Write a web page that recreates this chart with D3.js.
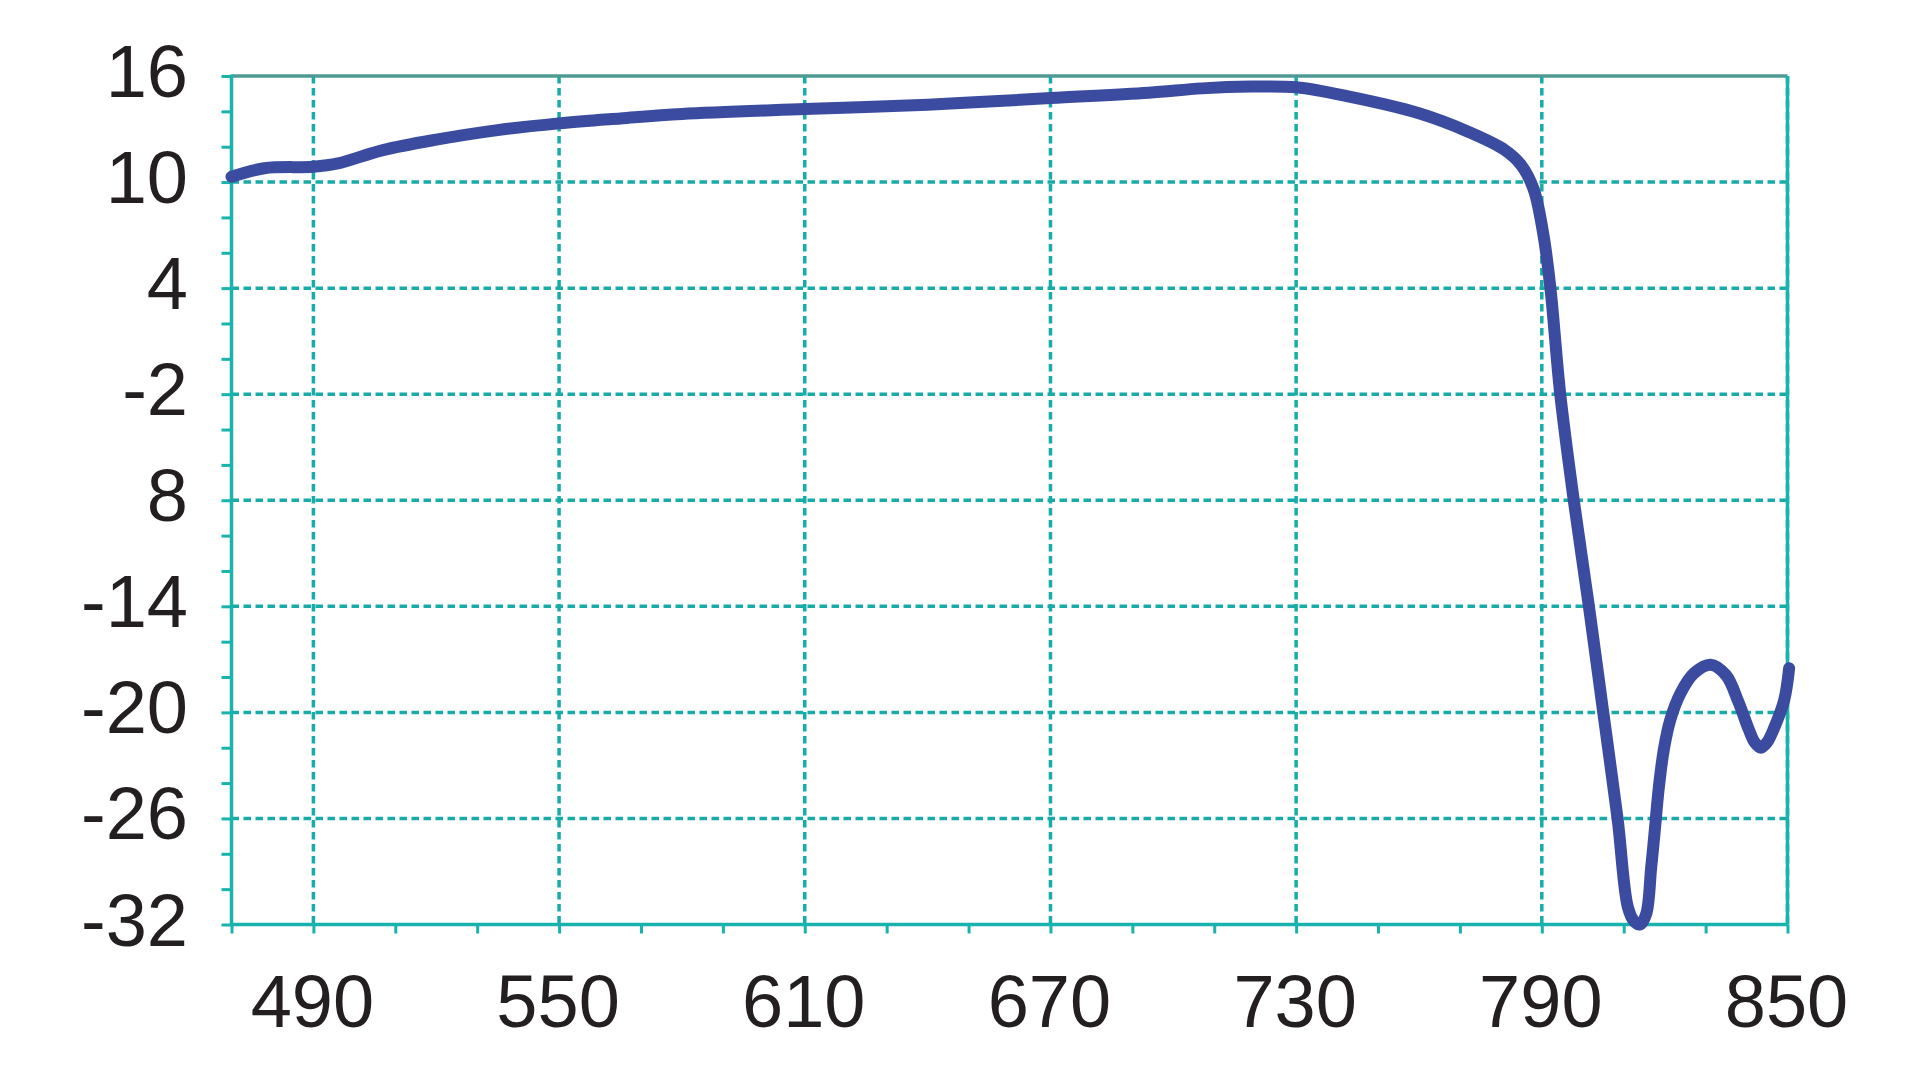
<!DOCTYPE html>
<html>
<head>
<meta charset="utf-8">
<style>
body { margin: 0; background: #fff; }
text {
  font-family: "Liberation Sans", Arial, sans-serif;
  fill: #231f20;
}
.grid line {
  stroke: #17aca7;
  stroke-width: 3.5px;
  stroke-dasharray: 7.5,4.5;
}
.frame {
  fill: none;
  stroke-width: 3.5px;
}
</style>
</head>
<body>
<script src="https://cdn.jsdelivr.net/npm/d3@7/dist/d3.min.js"></script>
<script>

// wavelength (nm) and value
var wavelength = [470, 478, 490, 496, 507, 520, 535, 550, 565, 580, 610, 640, 670, 694, 707, 719, 730, 743, 760, 772, 781, 785, 788, 790.4, 792.1, 794.5, 797.8, 801.5, 805, 808.5, 811, 812.5, 814, 815.5, 816.7, 817.5, 818.6, 819.8, 821.4, 823.9, 827.1, 831.2, 835, 838, 840.6, 842, 843.5, 845, 846.7, 849.2, 850.4];
var signal = [10.30, 10.78, 10.87, 11.06, 11.81, 12.40, 12.94, 13.32, 13.6, 13.85, 14.13, 14.38, 14.75, 15.05, 15.30, 15.40, 15.36, 14.83, 13.89, 12.85, 11.81, 10.95, 9.6, 7.0, 4.0, -2.0, -8.0, -14.0, -20.0, -26.0, -31.0, -31.8, -32.0, -31.4, -28.8, -26.9, -24.2, -22.1, -20.4, -18.9, -17.8, -17.3, -17.9, -19.4, -21.0, -21.7, -22.0, -21.7, -20.9, -19.3, -17.5];

var xTicks = [490, 550, 610, 670, 730, 790, 850];
var xLabels = ["490", "550", "610", "670", "730", "790", "850"];
var yTicks = [16, 10, 4, -2, -8, -14, -20, -26, -32];
var yLabels = ["16", "10", "4", "-2", "8", "-14", "-20", "-26", "-32"];

var width = 1920,
    height = 1080;

var pLeft = 231.5, pRight = 1787.5, pTop = 76, pBottom = 924.5;

var x = d3.scaleLinear().domain([470, 850]).range([pLeft, pRight]);
var y = d3.scaleLinear().domain([-32, 16]).range([pBottom, pTop]);

var svg = d3.select("body").append("svg")
    .attr("width", width)
    .attr("height", height);

// dashed grid
var grid = svg.append("g").attr("class", "grid");
grid.selectAll(".vg")
    .data(xTicks)
    .enter().append("line")
    .attr("x1", d => x(d)).attr("x2", d => x(d))
    .attr("y1", pTop).attr("y2", pBottom);
grid.selectAll(".hg")
    .data(yTicks.slice(1, -1))
    .enter().append("line")
    .attr("x1", pLeft).attr("x2", pRight)
    .attr("y1", d => y(d)).attr("y2", d => y(d));

// minor ticks
var minorX = d3.range(470, 851, 20);
var minorY = d3.range(-32, 17, 2);

var xAxis = svg.append("g")
    .attr("transform", "translate(0," + pBottom + ")")
    .call(d3.axisBottom(x).tickValues(minorX).tickSize(9).tickFormat(""));
var yAxis = svg.append("g")
    .attr("transform", "translate(" + pLeft + ",0)")
    .call(d3.axisLeft(y).tickValues(minorY).tickSize(10).tickFormat(""));

[xAxis, yAxis].forEach(function(a) {
  a.select(".domain").remove();
  a.selectAll(".tick line").attr("stroke", "#19b3ae").attr("stroke-width", 3);
});

// frame
svg.append("line").attr("class", "frame")
    .attr("x1", pLeft).attr("x2", pRight).attr("y1", pTop).attr("y2", pTop)
    .attr("stroke", "#4f9a95");
svg.append("line").attr("class", "frame")
    .attr("x1", pRight).attr("x2", pRight).attr("y1", pTop).attr("y2", pBottom)
    .attr("stroke", "#19b3ae").attr("stroke-width", 3);
svg.append("line").attr("class", "frame")
    .attr("x1", pLeft).attr("x2", pRight).attr("y1", pBottom).attr("y2", pBottom)
    .attr("stroke", "#19b3ae");
svg.append("line").attr("class", "frame")
    .attr("x1", pLeft).attr("x2", pLeft).attr("y1", pTop - 1.5).attr("y2", pBottom + 1.5)
    .attr("stroke", "#19b3ae");

// labels
svg.append("g").selectAll("text")
    .data(yTicks)
    .enter().append("text")
    .attr("x", 188)
    .attr("y", d => y(d) + 21)
    .attr("text-anchor", "end")
    .style("font-size", "74px")
    .text((d, i) => yLabels[i]);

svg.append("g").selectAll("text")
    .data(xTicks)
    .enter().append("text")
    .attr("x", d => x(d) - 1)
    .attr("y", 1027)
    .attr("text-anchor", "middle")
    .style("font-size", "74px")
    .text((d, i) => xLabels[i]);

// the curve
var data = wavelength.map((w, i) => ({w: w, v: signal[i]}));
var line = d3.line()
    .x(d => x(d.w))
    .y(d => y(d.v))
    .curve(d3.curveCatmullRom.alpha(0.5));

svg.append("path")
    .datum(data)
    .attr("d", line)
    .attr("fill", "none")
    .attr("stroke", "#3b4ca0")
    .attr("stroke-width", 12)
    .attr("stroke-linecap", "round")
    .attr("stroke-linejoin", "round");

</script>
</body>
</html>
